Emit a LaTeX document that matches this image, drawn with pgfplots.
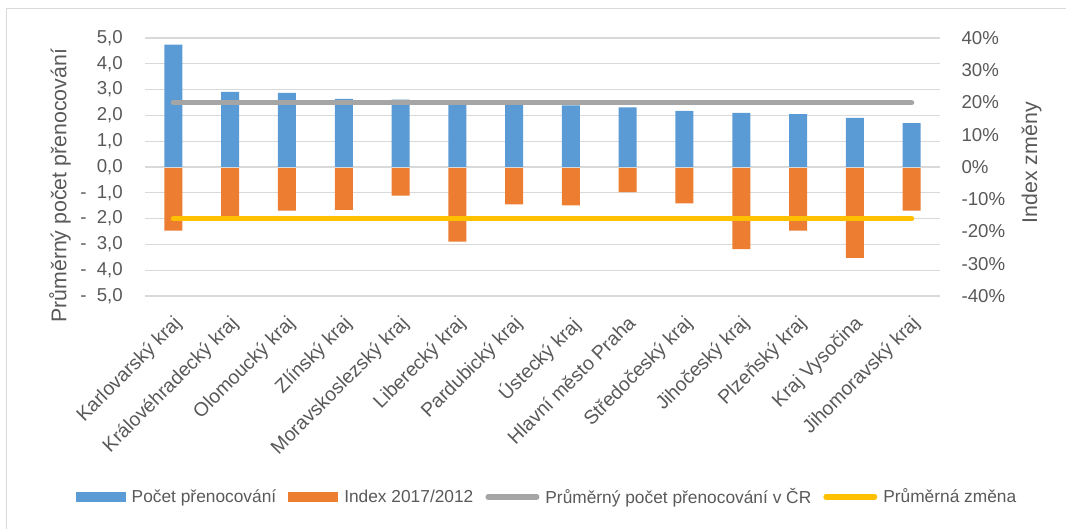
\documentclass[border=0pt]{standalone}
\usepackage{pgfplots}
\pgfplotsset{compat=1.18}
\usepackage{fontspec}
\setmainfont{Liberation Sans}
\definecolor{cblue}{HTML}{5B9BD5}
\definecolor{corange}{HTML}{ED7D31}
\definecolor{cgray}{HTML}{A5A5A5}
\definecolor{cyellow}{HTML}{FFC000}
\definecolor{cgrid}{HTML}{D9D9D9}
\definecolor{ctext}{HTML}{595959}
\newcommand\negl[1]{-\hspace{0.55em}#1}
\begin{document}
\begin{tikzpicture}
\useasboundingbox (-108.75pt,-174.75pt) rectangle (690.75pt,222pt);
\draw[cgrid, line width=0.75pt] (-103.5pt,-174.75pt) -- (-103.5pt,215.25pt) -- (690.75pt,215.25pt);
\begin{axis}[
  at={(0,0)}, anchor=south west, scale only axis,
  width=596.25pt, height=193.5pt,
  xmin=-0.5, xmax=13.5, ymin=-5, ymax=5,
  axis line style={draw=none}, tick style={draw=none},
  ymajorgrids, grid style={cgrid, line width=1pt},
  ytick={-5,-4,...,5},
  yticklabels={{\negl{5,0}},{\negl{4,0}},{\negl{3,0}},{\negl{2,0}},{\negl{1,0}},{0,0},{1,0},{2,0},{3,0},{4,0},{5,0}},
  yticklabel style={font=\fontsize{14}{16}\selectfont, text=ctext, inner sep=0pt, xshift=-16.5pt, anchor=east},
  xtick={0,1,...,13},
  xticklabels={Karlovarský kraj,Královéhradecký kraj,Olomoucký kraj,Zlínský kraj,Moravskoslezský kraj,Liberecký kraj,Pardubický kraj,Ústecký kraj,Hlavní město Praha,Středočeský kraj,Jihočeský kraj,Plzeňský kraj,Kraj Vysočina,Jihomoravský kraj},
  xticklabel style={font=\fontsize{14.6}{16}\selectfont, text=ctext, inner sep=0pt, xshift=-1pt, yshift=-13.5pt, rotate=45, anchor=north east},
  every axis y label/.style={at={(axis description cs:-0.1069,0.427)}, rotate=90, anchor=center, font=\fontsize{16}{18}\selectfont, text=ctext},
  ylabel={Průměrný počet přenocování},
]
\addplot[ybar, bar width=13.5pt, fill=cblue, draw=none] coordinates {
(0,4.74) (1,2.91) (2,2.87) (3,2.64) (4,2.61) (5,2.58) (6,2.47) (7,2.39) (8,2.31) (9,2.18) (10,2.10) (11,2.05) (12,1.90) (13,1.70)};
\addplot[cgray, line width=4pt, line cap=round] coordinates {
(0,2.49) (1,2.49) (2,2.49) (3,2.49) (4,2.49) (5,2.49) (6,2.49) (7,2.49) (8,2.49) (9,2.49) (10,2.49) (11,2.49) (12,2.49) (13,2.49)};
\end{axis}
\begin{axis}[
  at={(0,0)}, anchor=south west, scale only axis,
  width=596.25pt, height=193.5pt,
  xmin=-0.5, xmax=13.5, ymin=-40, ymax=40,
  axis line style={draw=none}, tick style={draw=none},
  xtick=\empty,
  ytick={-40,-30,...,40},
  yticklabels={{-40\%},{-30\%},{-20\%},{-10\%},{0\%},{10\%},{20\%},{30\%},{40\%}},
  yticklabel pos=right,
  yticklabel style={font=\fontsize{14}{16}\selectfont, text=ctext, inner sep=0pt, xshift=16pt, anchor=west},
  every axis y label/.style={at={(axis description cs:1.1153,0.517)}, rotate=90, anchor=center, font=\fontsize{16}{18}\selectfont, text=ctext},
  ylabel={Index změny},
  legend columns=4,
  legend style={at={(axis description cs:0.5044,-0.779)}, anchor=center, draw=none, fill=none,
    font=\fontsize{13}{15}\selectfont, text=ctext, nodes={inner sep=0pt},
    /tikz/every odd column/.append style={column sep=4.5pt},
    /tikz/every even column/.append style={column sep=9pt}},
]
\addplot[ybar, bar width=13.5pt, fill=corange, draw=none, forget plot] coordinates {
(0,-19.7) (1,-15.5) (2,-13.5) (3,-13.3) (4,-8.9) (5,-23.1) (6,-11.6) (7,-11.9) (8,-7.8) (9,-11.3) (10,-25.5) (11,-19.7) (12,-28.2) (13,-13.5)};
\addplot[cgrid, line width=0.75pt, forget plot] coordinates {(-0.5,0) (13.5,0)};
\addplot[cyellow, line width=4pt, line cap=round, forget plot] coordinates {
(0,-16) (1,-16) (2,-16) (3,-16) (4,-16) (5,-16) (6,-16) (7,-16) (8,-16) (9,-16) (10,-16) (11,-16) (12,-16) (13,-16)};
\addlegendimage{legend image code/.code={\fill[cblue, draw=none] (0pt,-3.75pt) rectangle (37.5pt,3.75pt);}}
\addlegendentry{Počet přenocování}
\addlegendimage{legend image code/.code={\fill[corange, draw=none] (0pt,-3.75pt) rectangle (37.5pt,3.75pt);}}
\addlegendentry{Index 2017/2012}
\addlegendimage{legend image code/.code={\path[draw=none, fill=none] (0pt,-3.75pt) rectangle (40.5pt,3.75pt); \draw[cgray, line width=4pt, line cap=round] (2pt,0pt) -- (38.5pt,0pt);}}
\addlegendentry{Průměrný počet přenocování v ČR}
\addlegendimage{legend image code/.code={\path[draw=none, fill=none] (0pt,-3.75pt) rectangle (40.5pt,3.75pt); \draw[cyellow, line width=4pt, line cap=round] (2pt,0pt) -- (38.5pt,0pt);}}
\addlegendentry{Průměrná změna}
\end{axis}
\end{tikzpicture}
\end{document}
